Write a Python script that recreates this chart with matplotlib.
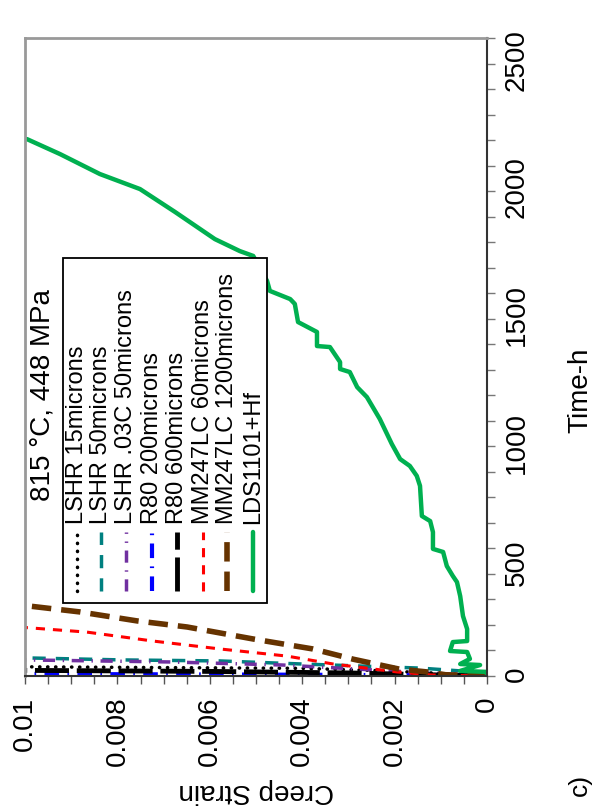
import numpy as np
import matplotlib.pyplot as plt
from matplotlib.patches import Rectangle

plt.rcParams['font.family'] = ['Liberation Sans', 'DejaVu Sans']

# creep curves, time in h and creep strain
lshr15_t = [0, 12, 22, 30, 33, 36]
lshr15_s = [0, 0.0012, 0.0025, 0.0040, 0.0070, 0.0100]

lshr50_t = [0, 20, 31, 47, 59, 63, 71]
lshr50_s = [0, 0.00058, 0.00145, 0.0040, 0.00578, 0.0079, 0.0100]

lshr03c_t = [0, 8, 27, 43, 55, 63]
lshr03c_s = [0, 0.00087, 0.0028, 0.00442, 0.00686, 0.0100]

r80_200_t = [0, 3, 5, 8]
r80_200_s = [0, 0.0015, 0.0040, 0.0100]

r80_600_t = [0, 6, 12, 18, 22]
r80_600_s = [0, 0.0015, 0.0030, 0.0060, 0.0100]

mm60_t = [0, 4, 16, 47, 78, 106, 137, 172, 190]
mm60_s = [0, 0.0012, 0.00195, 0.00333, 0.00433, 0.00578, 0.00723, 0.00866, 0.0100]

mm1200_t = [0, 5, 16, 27, 66, 106, 145, 192, 216, 251, 276]
mm1200_s = [0, 0.0009, 0.0013, 0.0019, 0.0029, 0.00377, 0.00506, 0.00649, 0.00758, 0.00881, 0.0100]

lds_t = [0, 16, 20, 43, 47, 67, 94, 98, 133, 137, 184, 235, 313, 368, 392, 431, 486, 498,
         564, 607, 627, 745, 784, 823, 850, 909, 1007, 1093, 1132, 1191, 1203, 1230, 1289,
         1293, 1348, 1387, 1458, 1477, 1509, 1548, 1646, 1665, 1712, 1818, 1908, 1967, 2045, 2104]
lds_s = [0, 0.0, 0.00058, 0.00015, 0.00058, 0.00037, 0.00043, 0.00080, 0.00074, 0.00043,
         0.00043, 0.00052, 0.00058, 0.00065, 0.00074, 0.00087, 0.00095, 0.00117, 0.00117,
         0.00123, 0.00141, 0.00145, 0.00152, 0.00167, 0.00188, 0.00206, 0.00232, 0.00260,
         0.00281, 0.00297, 0.00318, 0.00318, 0.00340, 0.00368, 0.00368, 0.00409, 0.00416,
         0.00426, 0.00470, 0.00476, 0.00506, 0.00535, 0.00589, 0.00675, 0.00751, 0.00838,
         0.00924, 0.00996]

labels = ['LSHR 15microns', 'LSHR 50microns', 'LSHR .03C 50microns', 'R80 200microns',
          'R80 600microns', 'MM247LC 60microns', 'MM247LC 1200microns', 'LDS1101+Hf']
series = [(lshr15_t, lshr15_s), (lshr50_t, lshr50_s), (lshr03c_t, lshr03c_s),
          (r80_200_t, r80_200_s), (r80_600_t, r80_600_s), (mm60_t, mm60_s),
          (mm1200_t, mm1200_s), (lds_t, lds_s)]

styles = [
    dict(color='black', lw=2.5, ls=(0, (0.1, 2.2)), dash_capstyle='round'),
    dict(color='#008080', lw=2.5, ls=(0, (3.8, 2.9))),
    dict(color='#7030A0', lw=2.5, ls=(0, (3.5, 2.2, 0.4, 2.2))),
    dict(color='#0000FF', lw=3, ls=(0, (3.5, 2, 0.4, 2))),
    dict(color='black', lw=3.5, ls=(0, (7, 1.6))),
    dict(color='#FF0000', lw=2.2, ls=(0, (3, 2.6))),
    dict(color='#663300', lw=4, ls=(0, (3.5, 1.8))),
    dict(color='#00B050', lw=3.2, ls='-'),
]

fig = plt.figure(figsize=(6.09, 8.12), dpi=100)
ax = fig.add_axes([25 / 609, 135 / 812, 462 / 609, 638 / 812])

# the chart is turned a quarter turn: strain runs right to left, time runs upward
for (t, s), st in zip(series, styles):
    ax.plot(s, t, solid_capstyle='round', **st)

ax.set_xlim(0.01, 0)
ax.set_ylim(0, 2500)

ax.set_xticks([0.01, 0.008, 0.006, 0.004, 0.002, 0])
ax.set_xticklabels(['0.01', '0.008', '0.006', '0.004', '0.002', '0'])
ax.set_xticks(np.arange(0, 0.01001, 0.0005), minor=True)
ax.set_yticks([0, 500, 1000, 1500, 2000, 2500])
ax.set_yticks(np.arange(0, 2501, 100), minor=True)

ax.yaxis.tick_right()
ax.tick_params(axis='x', which='both', direction='out', length=6, width=1, colors='#555555',
               labelcolor='black', labelsize=20, labelrotation=90, pad=8)
ax.tick_params(axis='y', which='both', direction='out', length=6, width=1, colors='#777777',
               labelcolor='black', labelsize=20, labelrotation=90, pad=6)

for side in ['top', 'left']:
    ax.spines[side].set_color('#999999')
    ax.spines[side].set_linewidth(2)
ax.spines['right'].set_color('#333333')
ax.spines['right'].set_linewidth(1.5)
ax.spines['bottom'].set_color('#333333')
ax.spines['bottom'].set_linewidth(1.5)

ax.set_xlabel('Creep Strain', fontsize=20, rotation=180)
ax.xaxis.set_label_coords(0.5, -0.158)
ax.yaxis.set_label_position('right')
ax.set_ylabel('Time-h', fontsize=20, rotation=90)
ax.yaxis.set_label_coords(1.175, 0.45)

# legend, drawn by hand so that its text can be turned too
ax.add_patch(Rectangle((0.0823, 0.114), 0.442, 0.541, transform=ax.transAxes,
                       facecolor='white', edgecolor='black', lw=1.3, zorder=5))
leg_x = [77, 101, 126, 152, 177, 203, 227, 253]
for px, lab, st in zip(leg_x, labels, styles):
    xa = (px - 25) / 462
    ax.plot([xa, xa], [0.133, 0.226], transform=ax.transAxes, zorder=6,
            solid_capstyle='round', **st)
    ax.text(xa, 0.240, lab, transform=ax.transAxes, rotation=90, ha='center', va='bottom',
            fontsize=17, zorder=7)

ax.text(0.037, 0.276, '815 °C, 448 MPa', transform=ax.transAxes, rotation=90,
        ha='center', va='bottom', fontsize=20, zorder=7)

fig.text(580 / 609, 1 - 785 / 812, 'c)', rotation=90, ha='center', va='center', fontsize=19)

fig.savefig('out.png', dpi=100)
